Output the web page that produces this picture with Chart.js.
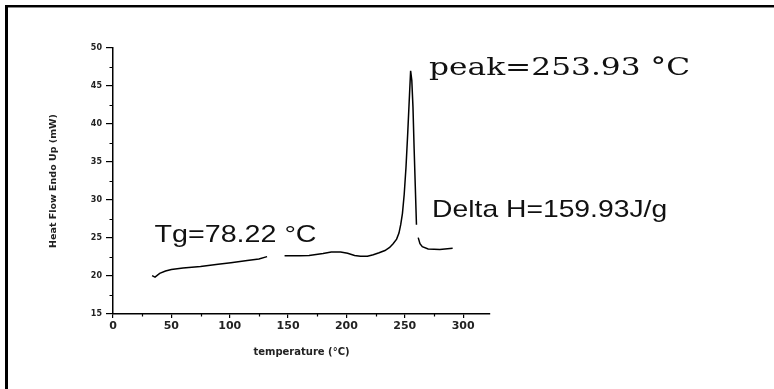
<!DOCTYPE html>
<html>
<head>
<meta charset="utf-8">
<script src="https://cdn.jsdelivr.net/npm/chart.js@4.4.1/dist/chart.umd.min.js"></script>
<style>
  html, body { margin: 0; padding: 0; background: #fff; }
  #wrap { width: 774px; height: 389px; }
</style>
</head>
<body>
<div id="wrap"><canvas id="dsc"></canvas></div>
<script>
// DSC trace, temperature in C, heat flow in mW
// null marks a break in the recorded line
const temps = [33.5, 36, 40, 45, 50, 60, 75, 90, 101, 115, 125, 132, 140,
  147, 160, 168, 180, 187, 195, 201, 207, 212, 218, 223, 228, 233, 237, 240,
  243, 245, 246.5, 248, 249.5, 251, 252.5, 254, 255, 256, 257, 258, 259, 260, 260.8,
  261.5, 263, 265, 270, 280, 291];
const heatFlow = [20.05, 19.85, 20.35, 20.65, 20.85, 21.05, 21.25, 21.55, 21.75, 22.05, 22.25, 22.55, null,
  22.65, 22.65, 22.7, 22.95, 23.15, 23.15, 23.0, 22.7, 22.6, 22.6, 22.8, 23.05, 23.35, 23.75, 24.25,
  24.85, 25.65, 26.75, 28.25, 30.75, 34.25, 38.75, 43.75, 47.0, 45.75, 42.25, 36.75, 31.75, 26.75, null,
  25.05, 24.25, 23.85, 23.55, 23.5, 23.65];

const xTicks = [0, 50, 100, 150, 200, 250, 300];
const yTicks = [15, 20, 25, 30, 35, 40, 45, 50];
const xTitle = 'temperature (°C)';
const yTitle = 'Heat Flow Endo Up (mW)';

// notes written on the plot, anchored in data units
const noteText = ['peak=253.93 °C', 'Delta H=159.93J/g', 'Tg=78.22 °C'];
const noteX = [270.8, 273.4, 35.6];
const noteY = [46.45, 27.8, 24.5];

const points = temps.map((t, i) => ({ x: t, y: heatFlow[i] }));
const tickFont = { family: 'DejaVu Sans', weight: 'bold' };

// white page with the picture frame on the top and left edges
const framePlugin = {
  id: 'frame',
  beforeDraw(chart) {
    const ctx = chart.ctx;
    ctx.save();
    ctx.fillStyle = '#fff';
    ctx.fillRect(0, 0, chart.width, chart.height);
    ctx.fillStyle = '#000';
    ctx.fillRect(5, 5, chart.width - 5, 2);
    ctx.fillRect(5, 5, 3, chart.height - 5);
    ctx.fillStyle = '#8a8a8a';
    ctx.fillRect(8, 7, chart.width - 8, 1);
    ctx.restore();
  }
};

// short minor ticks halfway between the labelled ones
const minorTicks = {
  id: 'minorTicks',
  afterDraw(chart) {
    const { ctx, scales: { x, y } } = chart;
    ctx.save();
    ctx.strokeStyle = '#000';
    ctx.lineWidth = 1.2;
    ctx.beginPath();
    for (let i = 0; i < xTicks.length; i++) {
      const v = xTicks[i] + 25;
      if (v > x.max) break;
      const px = Math.round(x.getPixelForValue(v)) + 0.5;
      ctx.moveTo(px, y.bottom);
      ctx.lineTo(px, y.bottom + 2.5);
    }
    for (let i = 0; i < yTicks.length - 1; i++) {
      const py = Math.round(y.getPixelForValue(yTicks[i] + 2.5)) + 0.5;
      ctx.moveTo(x.left, py);
      ctx.lineTo(x.left - 3.5, py);
    }
    ctx.stroke();
    ctx.restore();
  }
};

// the three notes, drawn a bit wide like the original
const notesPlugin = {
  id: 'notes',
  afterDatasetsDraw(chart) {
    const { ctx, scales: { x, y } } = chart;
    const fonts = ['24px "DejaVu Serif"', '24px "Liberation Sans"', '24px "Liberation Sans"'];
    const widths = [261, 235, 162];
    ctx.save();
    ctx.fillStyle = '#111';
    ctx.textBaseline = 'alphabetic';
    noteText.forEach((txt, i) => {
      ctx.font = fonts[i];
      const sx = widths[i] / ctx.measureText(txt).width;
      ctx.save();
      ctx.translate(x.getPixelForValue(noteX[i]), y.getPixelForValue(noteY[i]));
      ctx.scale(sx, 1);
      ctx.fillText(txt, 0, 0);
      ctx.restore();
    });
    ctx.restore();
  }
};

new Chart(document.getElementById('dsc'), {
  type: 'line',
  data: {
    datasets: [{
      label: 'DSC',
      data: points,
      borderColor: '#000',
      borderWidth: 1.5,
      pointRadius: 0,
      tension: 0,
      spanGaps: false,
      fill: false
    }]
  },
  options: {
    responsive: true,
    maintainAspectRatio: false,
    animation: false,
    layout: { padding: { top: 48, right: 284, bottom: 0, left: 0 } },
    plugins: { legend: { display: false }, tooltip: { enabled: false } },
    scales: {
      x: {
        type: 'linear',
        min: 0,
        max: 323,
        afterFit: s => { s.height = 75; },
        afterBuildTicks: s => { s.ticks = xTicks.map(v => ({ value: v })); },
        ticks: { font: { ...tickFont, size: 11 }, color: '#222', padding: 2, maxRotation: 0, autoSkip: false },
        grid: { drawOnChartArea: false, color: '#000', tickLength: 4, lineWidth: 1.2 },
        border: { color: '#000', width: 1.5 },
        title: { display: true, text: xTitle, color: '#222',
          font: { family: 'DejaVu Sans', weight: 'bold', size: 10 }, padding: { top: 0, bottom: 31 } }
      },
      y: {
        min: 15,
        max: 50,
        afterFit: s => { s.width = 113; },
        afterBuildTicks: s => { s.ticks = yTicks.map(v => ({ value: v })); },
        ticks: { font: { ...tickFont, size: 8 }, color: '#222', padding: 4 },
        grid: { drawOnChartArea: false, color: '#000', tickLength: 7, lineWidth: 1.2 },
        border: { color: '#000', width: 1.5 },
        title: { display: true, text: yTitle, color: '#222',
          font: { family: 'DejaVu Sans', weight: 'bold', size: 9.5 }, padding: { top: 48, bottom: 0 } }
      }
    }
  },
  plugins: [framePlugin, minorTicks, notesPlugin]
});
</script>
</body>
</html>
